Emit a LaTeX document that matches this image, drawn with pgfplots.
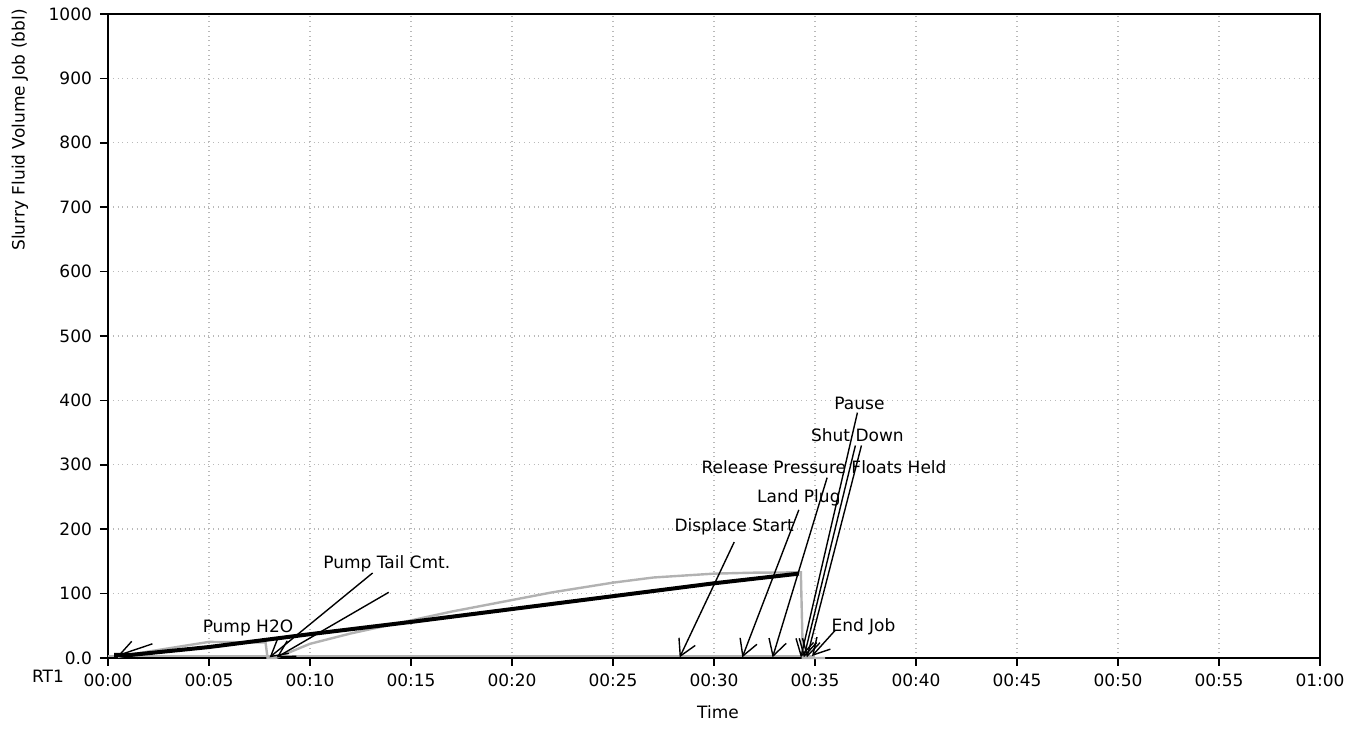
\documentclass[border=0pt]{standalone}
\usepackage{fontspec}
\setmainfont{DejaVu Sans}
\usepackage{pgfplots}
\pgfplotsset{compat=1.18}
\usetikzlibrary{arrows.meta}
\tikzset{annot/.style={-{Straight Barb[length=8bp,width=9bp]}, line width=0.7bp, black}}

\begin{document}
\fontsize{8.5bp}{10bp}\selectfont
\begin{tikzpicture}
\begin{axis}[
  at={(0,0)}, anchor=south west,
  scale only axis, width=606bp, height=322bp,
  xmin=0, xmax=60, ymin=0, ymax=1000,
  xtick={0,5,...,60},
  xticklabels={00:00,00:05,00:10,00:15,00:20,00:25,00:30,00:35,00:40,00:45,00:50,00:55,01:00},
  ytick={0,100,...,1000},
  yticklabels={0.0,100,200,300,400,500,600,700,800,900,1000},
  xtick pos=bottom, ytick pos=left,
  tick align=outside, major tick length=4bp,
  tick style={black, line width=0.8bp},
  axis line style={black, line width=1bp},
  grid=major, grid style={gray!55, dotted, line width=0.7bp},
  xticklabel style={yshift=-1bp},
  yticklabel style={xshift=-1bp},
  clip=false,
]
% near-zero trace along the bottom
\addplot[gray!60, line width=0.8bp] coordinates {(0,3) (35,3)};
% grey trace
\addplot[gray!60, line width=1.2bp] coordinates {
  (0.5,2) (2,10) (5,25) (7.8,24) (7.9,0) (8.3,0) (10,22) (12,38) (14.5,55)
  (17,72) (20,90) (22,102) (25,117) (27,125) (30,131) (32,132.5) (34.3,133) (34.4,0) (35.5,0)};
% slurry fluid volume
\addplot[black, line width=2bp] coordinates {
  (0.3,5) (1.2,5) (5,17) (10,37) (15,56) (20,76) (25,96) (30,116) (34.2,131)};

% event labels
\node at (axis cs:6.93,47) {Pump H2O};
\node at (axis cs:13.8,146) {Pump Tail Cmt.};
\node at (axis cs:31.0,203) {Displace Start};
\node at (axis cs:34.2,248) {Land Plug};
\node at (axis cs:35.45,297) {Release Pressure Floats Held};
\node at (axis cs:37.1,346) {Shut Down};
\node at (axis cs:37.2,395) {Pause};
\node at (axis cs:37.4,48) {End Job};

\draw[annot] (axis cs:2.2,22) -- (axis cs:0.5,4);
\draw[annot] (axis cs:13.1,132) -- (axis cs:8.0,1);
\draw[annot] (axis cs:13.9,102) -- (axis cs:8.35,1);
\draw[annot] (axis cs:31.0,180) -- (axis cs:28.3,1);
\draw[annot] (axis cs:34.2,230) -- (axis cs:31.4,1);
\draw[annot] (axis cs:35.6,280) -- (axis cs:32.9,1);
\draw[annot] (axis cs:37.0,330) -- (axis cs:34.45,1);
\draw[annot] (axis cs:37.3,330) -- (axis cs:34.6,1);
\draw[annot] (axis cs:37.1,381) -- (axis cs:34.3,1);
\draw[annot] (axis cs:36.0,43) -- (axis cs:34.85,3);
\end{axis}
\node at (-30bp,-9bp) {RT1};
\node at (305bp,-27bp) {Time};
\node[rotate=90] at (-44bp,264bp) {Slurry Fluid Volume Job (bbl)};
\path[use as bounding box] (-54bp,-37bp) rectangle (627bp,329bp);
\end{tikzpicture}
\end{document}
